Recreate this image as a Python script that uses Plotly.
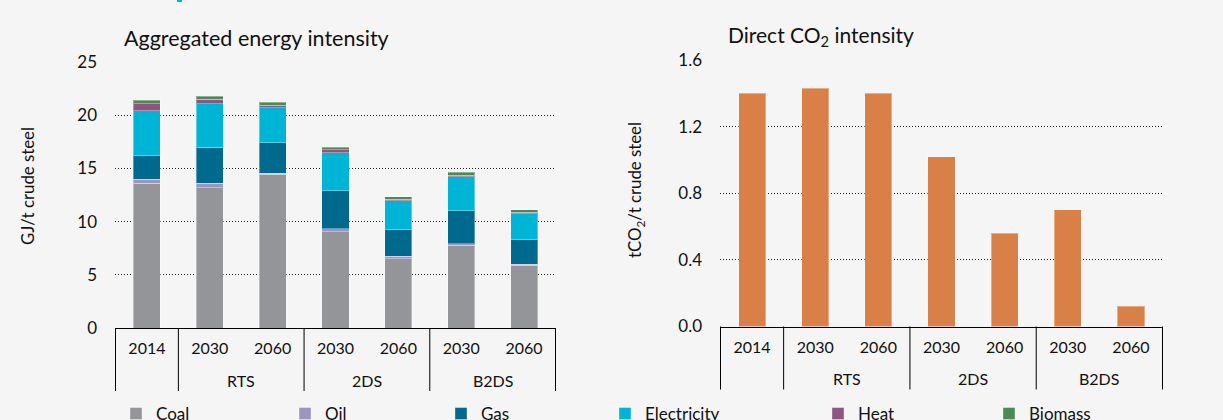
import plotly.graph_objects as go

W, H = 1223, 420

# ---- data ----
groups = ["", "RTS", "RTS", "2DS", "2DS", "B2DS", "B2DS"]
years = ["2014", "2030", "2060", "2030", "2060", "2030", "2060"]
group_labels = ["RTS", "2DS", "B2DS"]

coal = [13.6, 13.2, 14.45, 9.05, 6.5, 7.8, 5.9]
oil = [0.4, 0.4, 0.1, 0.3, 0.25, 0.1, 0.08]
gas = [2.2, 3.4, 2.85, 3.55, 2.5, 3.1, 2.3]
electricity = [4.2, 4.1, 3.3, 3.55, 2.7, 3.2, 2.45]
heat = [0.7, 0.4, 0.25, 0.3, 0.15, 0.17, 0.13]
biomass = [0.3, 0.3, 0.25, 0.25, 0.25, 0.28, 0.25]

co2 = [1.40, 1.43, 1.40, 1.02, 0.56, 0.70, 0.123]

series = [
    ("Coal", coal, "#939598"),
    ("Oil", oil, "#9d94c2"),
    ("Gas", gas, "#006a8e"),
    ("Electricity", electricity, "#00b4d5"),
    ("Heat", heat, "#8f5582"),
    ("Biomass", biomass, "#4b8a55"),
]
co2_color = "#d97f48"

# unique category keys; tick text shows the year only
cats = [(g + " " + y).strip() for g, y in zip(groups, years)]

FONT = "Lato, 'Open Sans', sans-serif"
BG = "#f5f5f5"
TXT = "#111111"

fig = go.Figure()

legend_centers = [138, 307, 463, 627, 840, 1011]
legend_names = ["legend", "legend2", "legend3", "legend4", "legend5", "legend6"]

for i, (name, vals, col) in enumerate(series):
    fig.add_trace(go.Bar(
        x=cats, y=vals, name=name,
        marker=dict(color=col, line=dict(color="rgba(255,255,255,0.35)", width=1)),
        xaxis="x", yaxis="y", legend=legend_names[i],
    ))

fig.add_trace(go.Bar(
    x=cats, y=co2, name="Direct CO2",
    marker=dict(color=co2_color, line=dict(color="rgba(255,255,255,0.35)", width=1)),
    xaxis="x2", yaxis="y2", showlegend=False,
))

def px(x):
    return x / W

def py(y):
    return (H - y) / H

xcommon = dict(
    type="category", showline=True, linecolor="black", linewidth=1,
    showgrid=False, ticks="", tickvals=cats, ticktext=years, ticklabelstandoff=6,
    tickfont=dict(family=FONT, size=16, color=TXT),
    automargin=False, zeroline=False,
)
ycommon = dict(
    showgrid=True, gridcolor="#222", griddash="1px,2px", gridwidth=1,
    zeroline=False, showline=False, ticks="", ticklabelstandoff=17,
    tickfont=dict(family=FONT, size=17, color=TXT), automargin=False,
)

layout_legends = {}
for i, name in enumerate(legend_names):
    layout_legends[name] = dict(
        xref="container", yref="container",
        x=px(legend_centers[i] - 22), y=py(414), xanchor="left", yanchor="middle",
        bgcolor="rgba(0,0,0,0)", font=dict(family=FONT, size=17, color=TXT),
        orientation="h", itemwidth=30,
    )

Y_AXIS_L, Y_AXIS_R = 328, 326.5
fig.update_layout(
    width=W, height=H, autosize=False,
    margin=dict(l=0, r=0, t=0, b=0, autoexpand=False),
    paper_bgcolor=BG, plot_bgcolor=BG,
    barmode="stack", bargap=0.57,
    xaxis=dict(domain=[px(115), px(556)], anchor="y", **xcommon),
    yaxis=dict(domain=[py(Y_AXIS_L), py(62)], anchor="x", range=[0, 25], dtick=5, **ycommon),
    xaxis2=dict(domain=[px(720), px(1163)], anchor="y2", **xcommon),
    yaxis2=dict(domain=[py(Y_AXIS_R), py(60)], anchor="x2", range=[0, 1.6], dtick=0.4,
                tickformat=".1f", **ycommon),
    showlegend=True,
    **layout_legends,
)

annots = [
    dict(text="Aggregated energy intensity", x=px(122), y=py(38), xanchor="left", yanchor="middle",
         font=dict(family=FONT, size=21.5, color=TXT)),
    dict(text="Direct CO<sub>2</sub> intensity", x=px(726), y=py(36), xanchor="left", yanchor="middle",
         font=dict(family=FONT, size=21, color=TXT)),
    dict(text="GJ/t crude steel", x=px(27), y=py(186), textangle=-90, xanchor="center", yanchor="middle",
         font=dict(family=FONT, size=16.8, color=TXT)),
    dict(text="tCO<sub>2</sub>/t crude steel", x=px(636), y=py(190), textangle=-90, xanchor="center",
         yanchor="middle", font=dict(family=FONT, size=16.8, color=TXT)),
]
for a in annots:
    fig.add_annotation(xref="paper", yref="paper", showarrow=False, **a)

# group labels and category dividers, placed on the category axes
group_centers = [1.5, 3.5, 5.5]
dividers = [-0.5, 0.5, 2.5, 4.5, 6.5]
for xa, yax in (("x", Y_AXIS_L), ("x2", Y_AXIS_R)):
    for g, c in zip(group_labels, group_centers):
        fig.add_annotation(xref=xa, yref="paper", x=c, y=py(yax + 52), text=g, showarrow=False,
                           xanchor="center", yanchor="middle",
                           font=dict(family=FONT, size=16, color=TXT))
    for d in dividers:
        fig.add_shape(type="line", xref=xa, yref="paper", x0=d, x1=d, y0=py(yax), y1=py(yax + 63),
                      line=dict(color="black", width=1))

fig.add_shape(type="rect", xref="paper", yref="paper", x0=px(177), x1=px(182), y0=py(2), y1=py(0),
              fillcolor="#00b4d5", line=dict(width=0))

fig.write_html("out.html", config={"displayModeBar": False, "responsive": False},
               post_script="document.body.style.margin='0';document.body.style.overflow='hidden';")
